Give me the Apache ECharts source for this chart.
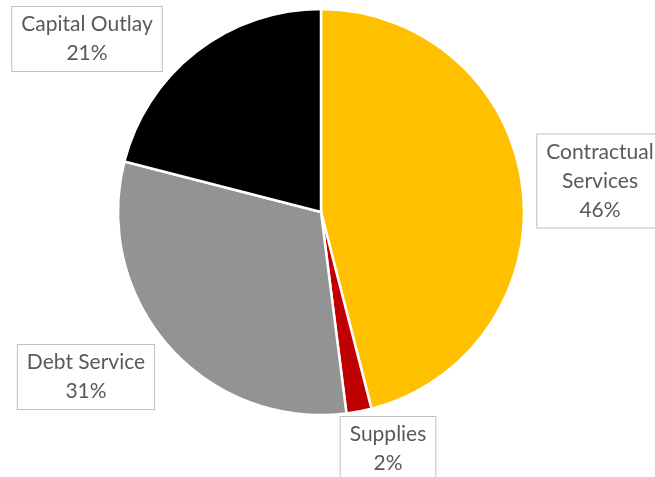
<!DOCTYPE html>
<html>
<head>
<meta charset="utf-8">
<script src="https://cdn.jsdelivr.net/npm/echarts@6/dist/echarts.min.js"></script>
<style>
  html, body { margin: 0; padding: 0; background: #ffffff; }
  #chart { width: 655px; height: 477px; }
</style>
</head>
<body>
<div id="chart"></div>
<script>
// Expenditure categories and their shares (percent)
const categories = ['Contractual\nServices', 'Supplies', 'Debt Service', 'Capital Outlay'];
const shares = [46, 2, 31, 21];
const sliceColors = ['#FFC000', '#C00000', '#939393', '#000000'];

// Where each boxed label sits (centre of box, in px)
const labelSpots = [
  { x: 600, y: 181 },
  { x: 388, y: 449 },
  { x: 86, y: 377 },
  { x: 87, y: 39 }
];

const chart = echarts.init(document.getElementById('chart'), null, { renderer: 'canvas' });

chart.setOption({
  backgroundColor: '#ffffff',
  animation: false,
  series: [{
    type: 'pie',
    center: [321, 212],
    radius: [0, 203],
    startAngle: 90,
    clockwise: true,
    avoidLabelOverlap: false,
    data: categories.map((name, i) => ({
      name: name,
      value: shares[i],
      itemStyle: { color: sliceColors[i] }
    })),
    itemStyle: { borderColor: '#ffffff', borderWidth: 2.5 },
    label: {
      show: true,
      position: 'outside',
      formatter: p => p.name + '\n' + p.value + '%',
      fontFamily: 'Lato',
      fontSize: 21,
      lineHeight: 29,
      color: '#595959',
      align: 'center',
      verticalAlign: 'middle',
      backgroundColor: '#ffffff',
      borderColor: '#BFBFBF',
      borderWidth: 1,
      padding: [3, 9, 3, 9]
    },
    labelLine: { show: false },
    labelLayout: params => ({
      x: labelSpots[params.dataIndex].x,
      y: labelSpots[params.dataIndex].y,
      align: 'center',
      verticalAlign: 'middle'
    }),
    emphasis: { disabled: true }
  }]
});
</script>
</body>
</html>
